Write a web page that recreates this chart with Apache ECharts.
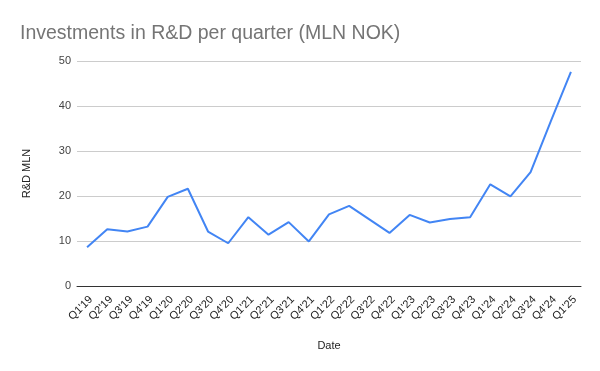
<!DOCTYPE html>
<html>
<head>
<meta charset="utf-8">
<script src="https://cdn.jsdelivr.net/npm/echarts@6/dist/echarts.min.js"></script>
<style>
html,body{margin:0;padding:0;background:#fff;}
#c{width:600px;height:371px;}
</style>
</head>
<body>
<div id="c"></div>
<script>
const categories = ["Q1'19","Q2'19","Q3'19","Q4'19","Q1'20","Q2'20","Q3'20","Q4'20","Q1'21","Q2'21","Q3'21","Q4'21","Q1'22","Q2'22","Q3'22","Q4'22","Q1'23","Q2'23","Q3'23","Q4'23","Q1'24","Q2'24","Q3'24","Q4'24","Q1'25"];
const rdValues = [8.6,12.6,12.1,13.2,19.8,21.6,12.1,9.5,15.3,11.4,14.2,9.9,15.9,17.8,14.8,11.8,15.8,14.1,14.9,15.3,22.6,19.9,25.3,36.6,47.6];
const yTicks = [0,10,20,30,40,50];

const chart = echarts.init(document.getElementById('c'), null, {renderer:'canvas'});
chart.setOption({
  animation:false,
  backgroundColor:'#fff',
  title:{
    text:'Investments in R&D per quarter (MLN NOK)',
    left:15, top:19,
    textStyle:{fontFamily:'Liberation Sans, Arial, sans-serif', fontSize:19.5, fontWeight:'normal', color:'#757575'}
  },
  grid:{left:77, right:19, top:61, bottom:85, containLabel:false},
  xAxis:{
    type:'category',
    data:categories,
    boundaryGap:true,
    name:'Date',
    nameLocation:'middle',
    nameGap:54,
    nameTextStyle:{fontFamily:'Liberation Sans, Arial, sans-serif', fontSize:11, color:'#222'},
    axisLine:{lineStyle:{color:'#333', width:1}},
    axisTick:{show:false},
    axisLabel:{rotate:45, interval:0, verticalAlign:'top', fontFamily:'Liberation Sans, Arial, sans-serif', fontSize:11, color:'#222', margin:8}
  },
  yAxis:{
    type:'value',
    min:yTicks[0], max:yTicks[yTicks.length-1], interval:10,
    name:'R&D MLN',
    nameLocation:'middle',
    nameGap:45,
    nameRotate:90,
    nameTextStyle:{fontFamily:'Liberation Sans, Arial, sans-serif', fontSize:11, color:'#222'},
    axisLine:{show:false},
    axisTick:{show:false},
    axisLabel:{fontFamily:'Liberation Sans, Arial, sans-serif', fontSize:11, color:'#444', margin:6},
    splitLine:{lineStyle:{color:'#ccc', width:1}}
  },
  series:[{
    type:'line',
    data:rdValues,
    showSymbol:false,
    symbol:'none',
    lineStyle:{color:'#4285F4', width:2},
    itemStyle:{color:'#4285F4'}
  }]
});
</script>
</body>
</html>
